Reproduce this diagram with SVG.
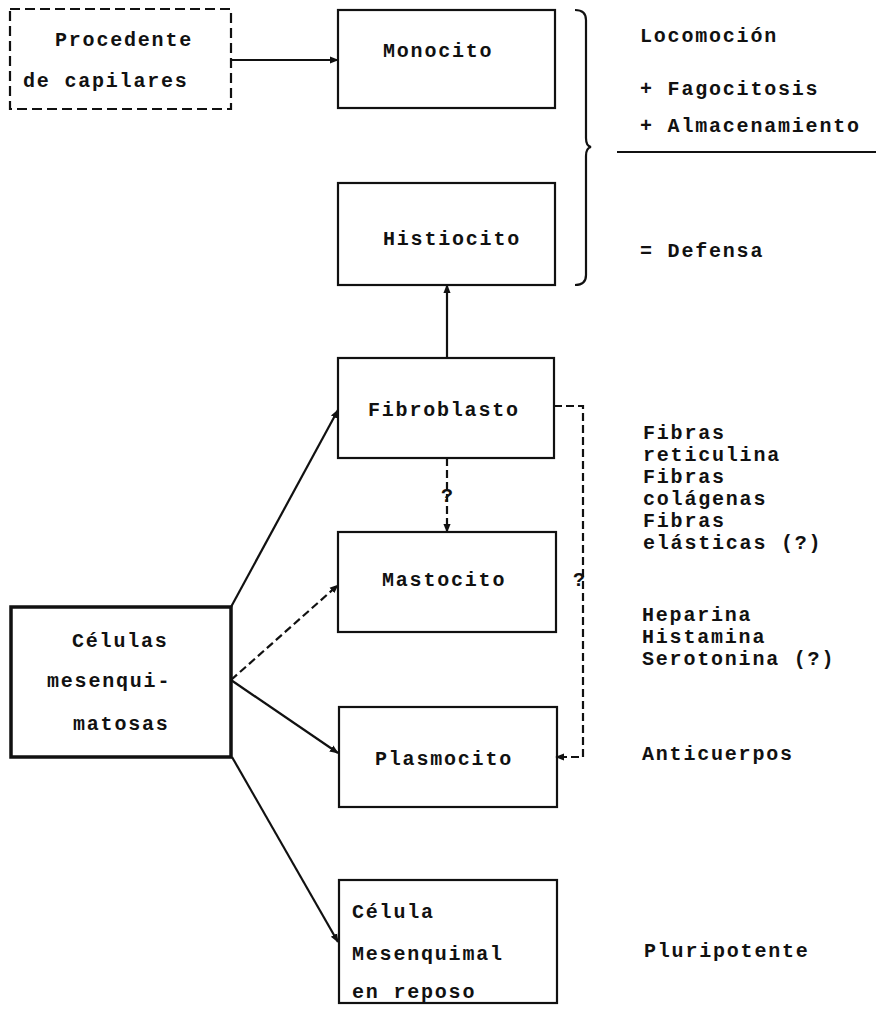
<svg xmlns="http://www.w3.org/2000/svg" width="877" height="1013" viewBox="0 0 877 1013">
<style>
text{font-family:"Liberation Mono","DejaVu Sans Mono",monospace;font-weight:bold;font-size:20px;letter-spacing:1.8px;fill:#111}
.box{fill:none;stroke:#111;stroke-width:2.2}
.thick{fill:none;stroke:#111;stroke-width:3.5}
.dbox{fill:none;stroke:#111;stroke-width:2.2;stroke-dasharray:10 5}
.ln{fill:none;stroke:#111;stroke-width:2.2}
.dl{fill:none;stroke:#111;stroke-width:2.2;stroke-dasharray:8 4}
</style>
<defs>
<marker id="ah" viewBox="0 0 10 10" refX="9" refY="5" markerWidth="9" markerHeight="9" markerUnits="userSpaceOnUse" orient="auto">
<path d="M0,1 L10,5 L0,9 z" fill="#111"/>
</marker>
</defs>
<rect width="877" height="1013" fill="#fff"/>
<g id="procedente">
<rect class="dbox" x="10" y="9" width="221" height="100"/>
<text x="55" y="46">Procedente</text>
<text x="23" y="87">de capilares</text>
</g>
<g id="monocito">
<rect class="box" x="338" y="10" width="217" height="98"/>
<text x="383" y="57">Monocito</text>
</g>
<g id="histiocito">
<rect class="box" x="338" y="183" width="217" height="102"/>
<text x="383" y="245">Histiocito</text>
</g>
<g id="fibroblasto">
<rect class="box" x="338" y="358" width="216" height="100"/>
<text x="368" y="416">Fibroblasto</text>
</g>
<g id="mastocito">
<rect class="box" x="338" y="532" width="218" height="100"/>
<text x="382" y="586">Mastocito</text>
</g>
<g id="plasmocito">
<rect class="box" x="339" y="707" width="218" height="100"/>
<text x="375" y="765">Plasmocito</text>
</g>
<g id="celula-reposo">
<rect class="box" x="339" y="880" width="218" height="123"/>
<text x="352" y="918">Célula</text>
<text x="352" y="960">Mesenquimal</text>
<text x="352" y="998">en reposo</text>
</g>
<g id="celulas-mesenquimatosas">
<rect class="thick" x="11" y="607" width="220" height="150"/>
<text x="72" y="647">Células</text>
<text x="47" y="687">mesenqui-</text>
<text x="73" y="730">matosas</text>
</g>
<g id="connectors">
<line class="ln" x1="231" y1="60" x2="338" y2="60" marker-end="url(#ah)"/>
<line class="ln" x1="447" y1="358" x2="447" y2="285" marker-end="url(#ah)"/>
<line class="dl" x1="447" y1="458" x2="447" y2="532" marker-end="url(#ah)"/>
<polyline class="dl" points="554,406 583,406 583,757 556,757" marker-end="url(#ah)"/>
<line class="ln" x1="231" y1="607" x2="338" y2="410" marker-end="url(#ah)"/>
<line class="dl" x1="231" y1="680" x2="338" y2="585" marker-end="url(#ah)"/>
<line class="ln" x1="231" y1="680" x2="338" y2="753" marker-end="url(#ah)"/>
<line class="ln" x1="232" y1="757" x2="338" y2="942" marker-end="url(#ah)"/>
<text x="441" y="502">?</text>
<text x="573" y="586">?</text>
</g>
<g id="brace">
<path class="ln" d="M575,10 Q586,10 586,20 L586,138 Q586,146 591,147 Q586,148 586,156 L586,275 Q586,285 575,285"/>
</g>
<g id="annotations">
<text x="640" y="42">Locomoción</text>
<text x="640" y="95">+ Fagocitosis</text>
<text x="640" y="132">+ Almacenamiento</text>
<line class="ln" x1="617" y1="152" x2="876" y2="152"/>
<text x="640" y="257">= Defensa</text>
<text x="643" y="439">Fibras</text>
<text x="643" y="461">reticulina</text>
<text x="643" y="483">Fibras</text>
<text x="643" y="505">colágenas</text>
<text x="643" y="527">Fibras</text>
<text x="643" y="549">elásticas (?)</text>
<text x="642" y="621">Heparina</text>
<text x="642" y="643">Histamina</text>
<text x="642" y="665">Serotonina (?)</text>
<text x="642" y="760">Anticuerpos</text>
<text x="644" y="957">Pluripotente</text>
</g>
</svg>
